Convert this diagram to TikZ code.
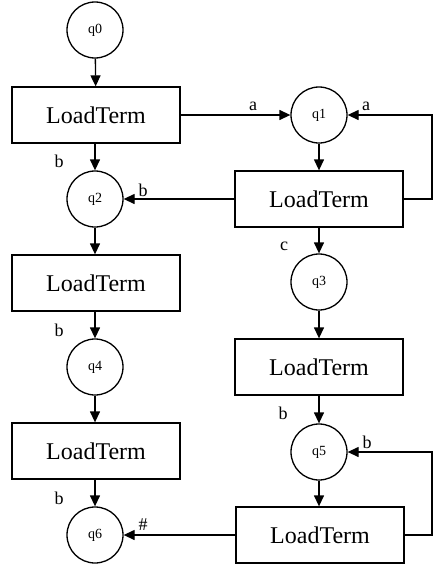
\documentclass[tikz,border=0pt]{standalone}
\usepackage{fontspec}
\setmainfont{Liberation Serif}
\usetikzlibrary{arrows.meta}
\begin{document}
\begin{tikzpicture}[x=1pt,y=-1pt,
  line width=1.3pt,
  state/.style={draw,circle,minimum size=56pt,inner sep=0pt,font=\fontsize{14}{14}\selectfont},
  ltbox/.style={draw,rectangle,minimum width=168pt,minimum height=56pt,inner sep=0pt,font=\fontsize{24}{24}\selectfont},
  lbl/.style={inner sep=0pt,font=\fontsize{18}{18}\selectfont},
  arr/.style={-{Triangle[length=11pt,width=10pt]}}
]
\useasboundingbox[fill=white] (0,0) rectangle (442,581);
% states
\node[state] (q0) at (95,30) {q0};
\node[state] (q1) at (319,115) {q1};
\node[state] (q2) at (95,199) {q2};
\node[state] (q3) at (319,282) {q3};
\node[state] (q4) at (95,367) {q4};
\node[state] (q5) at (319,452) {q5};
\node[state] (q6) at (95,535) {q6};
% boxes
\node[ltbox] (b1) at (96,115) {LoadTerm};
\node[ltbox] (b2) at (319,199) {LoadTerm};
\node[ltbox] (b3) at (96,283) {LoadTerm};
\node[ltbox] (b4) at (319,367) {LoadTerm};
\node[ltbox] (b5) at (96,451) {LoadTerm};
\node[ltbox] (b6) at (320,535) {LoadTerm};
% corner coordinates
\coordinate (c1) at (432,199);
\coordinate (c2) at (432,115);
\coordinate (c3) at (432,535);
\coordinate (c4) at (432,452);
% connectors
\draw[arr] (q0) -- (b1);
\draw[arr] (b1) -- (q1);
\draw[arr] (q1) -- (b2);
\draw[arr] (b2) -- (q2);
\draw[arr] (b2.east) -- (c1) -- (c2) -- (q1.east);
\draw[arr] (b1.south -| q2) -- (q2);
\draw[arr] (q2) -- (b3.north -| q2);
\draw[arr] (b3.south -| q4) -- (q4);
\draw[arr] (q4) -- (b5.north -| q4);
\draw[arr] (b5.south -| q6) -- (q6);
\draw[arr] (b2) -- (q3);
\draw[arr] (q3) -- (b4);
\draw[arr] (b4) -- (q5);
\draw[arr] (q5) -- (b6.north -| q5);
\draw[arr] (b6) -- (q6);
\draw[arr] (b6.east) -- (c3) -- (c4) -- (q5.east);
% labels
\node[lbl] (la1) at (253,106) {a};
\node[lbl] (la2) at (366,106) {a};
\node[lbl] (lb1) at (59,161) {b};
\node[lbl] (lb2) at (143,190) {b};
\node[lbl] (lc) at (284,246) {c};
\node[lbl] (lb3) at (59,330) {b};
\node[lbl] (lb4) at (283,413) {b};
\node[lbl] (lb5) at (367,442) {b};
\node[lbl] (lb6) at (59,498) {b};
\node[lbl] (lh) at (143,525) {\#};
\end{tikzpicture}
\end{document}
